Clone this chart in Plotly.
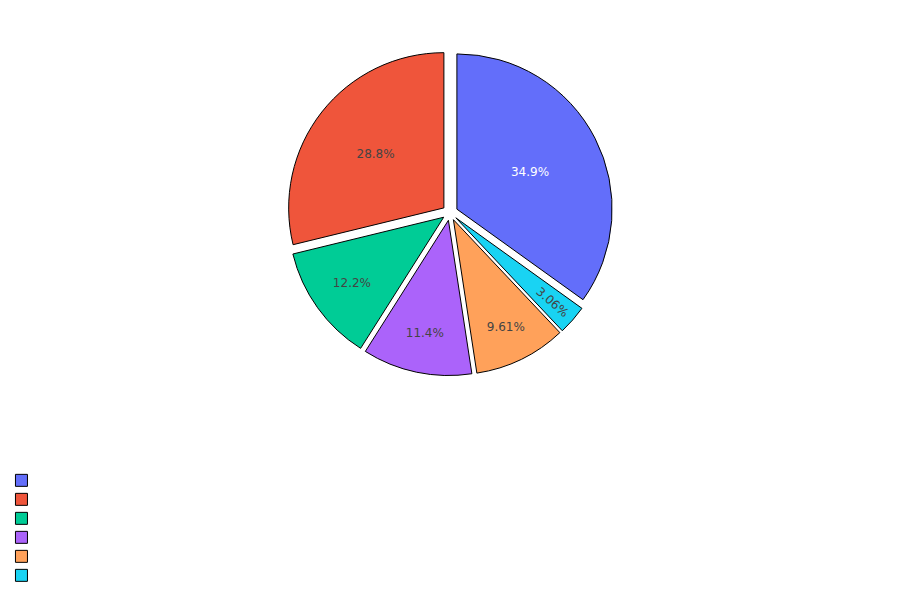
import plotly.graph_objects as go

labels = [" ", "  ", "   ", "    ", "     ", "      "]
values = [34.9, 28.8, 12.2, 11.4, 9.61, 3.06]
pulls = [0.05, 0.05, 0.05, 0.05, 0.05, 0.05]

fig = go.Figure(
    go.Pie(
        labels=labels,
        values=values,
        pull=pulls,
        textinfo="percent",
        marker=dict(line=dict(color="black", width=1)),
        domain=dict(x=[0, 1], y=[0.3704, 0.9286]),
    )
)
fig.update_layout(
    margin=dict(l=0, r=0, t=0, b=0, autoexpand=False),
    paper_bgcolor="white",
    font=dict(family="DejaVu Sans, Verdana, sans-serif"),
    legend=dict(x=-0.0074, y=0.216, xanchor="left", yanchor="top"),
)
fig.write_html("out.html")
